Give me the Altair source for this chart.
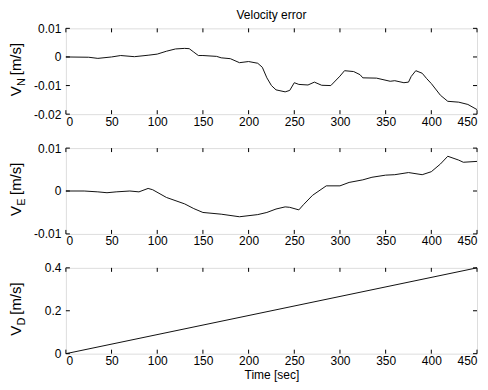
import altair as alt
import pandas as pd

# ---- data ----
time_n = [0, 25, 35, 50, 60, 75, 90, 100, 110, 120, 130, 135, 140, 145, 150, 165, 170, 180, 190, 200,
          210, 215, 220, 225, 230, 240, 245, 250, 255, 265, 272, 280, 290, 300, 305, 315, 322, 325, 340, 355,
          360, 370, 375, 378, 383, 390, 395, 400, 410, 418, 430, 440, 450]
vel_n = [0, -0.0001, -0.0005, 0, 0.0005, 0.0001, 0.0006, 0.001, 0.002, 0.0028,
         0.003, 0.0029, 0.0017, 0.0005, 0.0005, 0.0002, -0.0003, -0.0006, -0.002, -0.0016,
         -0.0022, -0.0036, -0.0073, -0.01, -0.0115, -0.0122, -0.0117, -0.009, -0.0096, -0.0098,
         -0.0088, -0.0099, -0.010, -0.0067, -0.0048, -0.0051, -0.0062, -0.0073, -0.0074, -0.0085,
         -0.0083, -0.009, -0.0088, -0.0068, -0.0048, -0.0057, -0.0076, -0.0093, -0.0134, -0.0155,
         -0.0158, -0.0166, -0.0184]

time_e = [0, 20, 35, 45, 55, 70, 80, 90, 95, 110, 130, 140, 150, 170, 190, 210, 220, 230, 240, 245,
          255, 260, 270, 285, 300, 310, 325, 335, 350, 360, 375, 390, 400, 410, 418, 430, 435, 450]
vel_e = [0, 0, -0.0002, -0.0004, -0.0002, 0, -0.0002, 0.0006, 0.0003, -0.0015,
         -0.003, -0.0041, -0.005, -0.0054, -0.006, -0.0055, -0.005, -0.0042, -0.0037, -0.0038,
         -0.0044, -0.0032, -0.001, 0.0012, 0.0012, 0.002, 0.0026, 0.0032, 0.0037, 0.0038,
         0.0043, 0.0038, 0.0045, 0.0063, 0.0081, 0.0072, 0.0067, 0.0069]

time_d = [0, 450]
vel_d = [0.0, 0.4]

x_ticks = [0, 50, 100, 150, 200, 250, 300, 350, 400, 450]
yticks_n = [-0.02, -0.01, 0, 0.01]
yticks_e = [-0.01, 0, 0.01]
yticks_d = [0, 0.2, 0.4]

W, H = 412, 86
FONT = "Liberation Sans"
FS = 12
TL = 4  # inward tick length


def panel(t, v, yticks, ydom, sub, xtitle=None, title=None):
    df = pd.DataFrame({"t": t, "v": v})
    xs = alt.Scale(domain=[0, 450], nice=False, zero=False)
    ys = alt.Scale(domain=ydom, nice=False, zero=False)
    xax = alt.Axis(values=x_ticks, ticks=False, domain=False, grid=False, labelPadding=2,
                   labelFontSize=FS, labelFont=FONT, labelColor="black", labelOverlap=False,
                   labelExpr="'' + datum.value",
                   titleFont=FONT, titleFontSize=FS, titleFontWeight="normal", titleColor="black",
                   titlePadding=3)
    yax = alt.Axis(values=yticks, ticks=False, domain=False, grid=False, labelPadding=5,
                   labelFontSize=FS, labelFont=FONT, labelColor="black", labelOverlap=False,
                   labelExpr="'' + datum.value")

    def X():
        return alt.X("t:Q", scale=xs, axis=xax, title=xtitle)

    def Y():
        return alt.Y("v:Q", scale=ys, axis=yax, title=None)

    line = alt.Chart(df).mark_line(color="#111111", strokeWidth=1).encode(x=X(), y=Y())

    xt = pd.DataFrame({"t": x_ticks})
    yt = pd.DataFrame({"v": yticks})
    rule = dict(color="black", strokeWidth=1)
    tb = alt.Chart(xt).mark_rule(**rule).encode(x=X(), y=alt.value(H), y2=alt.value(H - TL))
    tt = alt.Chart(xt).mark_rule(**rule).encode(x=X(), y=alt.value(0), y2=alt.value(TL))
    tl = alt.Chart(yt).mark_rule(**rule).encode(y=Y(), x=alt.value(0), x2=alt.value(TL))
    tr = alt.Chart(yt).mark_rule(**rule).encode(y=Y(), x=alt.value(W - TL), x2=alt.value(W))

    one = pd.DataFrame({"a": [0]})
    bx = -45
    y0 = 68
    lab_v = alt.Chart(one).mark_text(text="V", angle=270, fontSize=15, font=FONT, color="black",
                                     align="left", baseline="alphabetic").encode(
        x=alt.value(bx), y=alt.value(y0))
    lab_s = alt.Chart(one).mark_text(text=sub, angle=270, fontSize=11, font=FONT, color="black",
                                     align="left", baseline="alphabetic").encode(
        x=alt.value(bx + 4), y=alt.value(y0 - 10.2))
    lab_u = alt.Chart(one).mark_text(text="[m/s]", angle=270, fontSize=15, font=FONT, color="black",
                                     align="left", baseline="alphabetic").encode(
        x=alt.value(bx), y=alt.value(y0 - 21))

    props = dict(width=W, height=H)
    if title:
        props["title"] = alt.TitleParams(title, fontSize=FS, font=FONT, fontWeight="normal",
                                         color="black", offset=0, anchor="middle", frame="group")
    return alt.layer(line, tb, tt, tl, tr, lab_v, lab_s, lab_u).properties(**props)


p1 = panel(time_n, vel_n, yticks_n, [-0.02, 0.01], "N", title="Velocity error")
p2 = panel(time_e, vel_e, yticks_e, [-0.01, 0.01], "E")
p3 = panel(time_d, vel_d, yticks_d, [0, 0.4], "D", xtitle="Time [sec]")

chart = alt.vconcat(p1, p2, p3, spacing=13).properties(
    padding={"left": 0, "top": 0, "right": 0, "bottom": 0}
).configure_view(stroke="black", strokeWidth=1).configure(background="white")

chart.save("out.html", embed_options={"renderer": "svg", "actions": False})
